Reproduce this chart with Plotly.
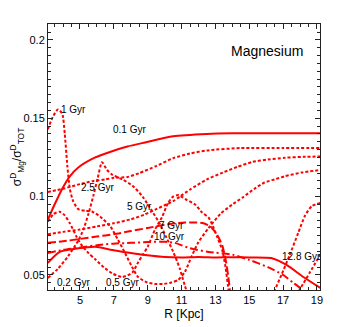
import plotly.graph_objects as go

# radius [kpc] and sigma_Mg / sigma_TOT for each time
r_01 = [3.1, 3.5, 4.0, 4.4, 4.9, 5.9, 6.9, 7.8, 8.85, 10.5, 12.5, 14.0, 16.0, 19.2]
s_01 = [0.0853, 0.095, 0.106, 0.113, 0.1186, 0.125, 0.129, 0.132, 0.1346, 0.1385, 0.1400, 0.1404, 0.1404, 0.1404]

r_02 = [3.1, 3.7, 4.3, 4.9, 5.2, 5.5, 5.8, 6.05, 6.3, 6.6, 6.9, 7.5, 8.1, 8.7, 9.3, 9.7,
        10.1, 10.5, 10.9, 11.2, 11.5, 12.5, 16.5, 17.6, 18.0, 18.6, 19.2]
s_02 = [0.048, 0.054, 0.062, 0.072, 0.079, 0.089, 0.101, 0.112, 0.122, 0.117, 0.114, 0.111, 0.107,
        0.100, 0.090, 0.083, 0.074, 0.065, 0.054, 0.043, 0.034, 0.02, 0.02, 0.034, 0.041, 0.052, 0.063]

r_05 = [3.1, 3.45, 3.8, 4.1, 4.4, 4.8, 5.1, 5.5, 5.9, 6.4, 6.9, 7.5, 8.08, 8.43, 8.72, 9.0, 9.43,
        9.85, 10.2, 10.5, 10.8, 11.3, 11.8, 12.2, 12.6, 12.9, 13.1, 13.4, 13.6, 13.75, 13.9, 14.6,
        15.8, 16.5, 16.9, 17.4, 17.9, 18.3, 18.7, 19.2]
s_05 = [0.084, 0.089, 0.0904, 0.088, 0.083, 0.0744, 0.069, 0.064, 0.060, 0.055, 0.051, 0.0487,
        0.0514, 0.058, 0.063, 0.068, 0.079, 0.087, 0.096, 0.100, 0.101, 0.098, 0.095, 0.090, 0.0866,
        0.080, 0.0745, 0.066, 0.055, 0.0426, 0.033, 0.02, 0.02, 0.040, 0.050, 0.063, 0.077, 0.088,
        0.094, 0.096]

r_1 = [3.1, 3.4, 3.7, 3.95, 4.1, 4.25, 4.4, 4.6, 4.9, 5.3, 5.7, 6.2, 6.8, 7.25, 7.66, 8.08, 8.43,
       8.9, 9.4, 9.9, 10.4, 10.8, 11.2, 11.6, 12.0, 12.6, 13.3, 14.0, 14.6, 15.3, 15.9, 16.5, 17.1,
       18.1, 19.2]
s_1 = [0.143, 0.151, 0.1557, 0.153, 0.140, 0.120, 0.105, 0.097, 0.092, 0.091, 0.0905, 0.0872,
       0.0808, 0.0724, 0.064, 0.055, 0.0487, 0.0455, 0.0443, 0.0442, 0.0452, 0.0468, 0.052, 0.062,
       0.071, 0.080, 0.089, 0.095, 0.0994, 0.105, 0.109, 0.111, 0.113, 0.1154, 0.117]

r_25 = [3.1, 4.0, 5.0, 5.8, 6.5, 7.0, 7.8, 8.5, 9.5, 10.5, 11.5, 12.5, 14.5, 17.0, 19.2]
s_25 = [0.103, 0.105, 0.108, 0.110, 0.111, 0.112, 0.1125, 0.115, 0.1195, 0.1245, 0.1275, 0.1295,
        0.131, 0.131, 0.131]

r_5 = [3.1, 4.0, 5.0, 6.0, 7.0, 8.0, 8.8, 9.5, 10.0, 10.5, 10.9, 11.5, 12.5, 13.45, 14.3, 15.2,
       16.1, 17.1, 18.2, 19.2]
s_5 = [0.076, 0.0775, 0.079, 0.081, 0.083, 0.0855, 0.0885, 0.092, 0.0945, 0.097, 0.100, 0.1045,
       0.111, 0.1154, 0.119, 0.1222, 0.1237, 0.1248, 0.1254, 0.1256]

r_7 = [3.1, 4.0, 5.0, 6.0, 7.0, 8.0, 9.0, 10.0, 10.6, 11.2, 11.8, 12.3, 12.7, 13.1, 13.4, 13.6,
       13.75, 13.85, 14.0]
s_7 = [0.0705, 0.0715, 0.073, 0.0745, 0.076, 0.078, 0.080, 0.082, 0.083, 0.0835, 0.0835, 0.083,
       0.081, 0.0756, 0.069, 0.060, 0.050, 0.041, 0.030]

r_10 = [3.1, 4.0, 5.0, 6.0, 7.0, 8.0, 9.0, 10.0, 10.6, 11.5, 12.6, 14.0, 15.0, 16.1, 17.0, 17.6,
        18.0, 18.4]
s_10 = [0.064, 0.066, 0.0675, 0.069, 0.070, 0.0705, 0.071, 0.0712, 0.0705, 0.067, 0.0647, 0.063,
        0.0596, 0.055, 0.050, 0.045, 0.0417, 0.036]

r_128 = [3.1, 3.8, 4.9, 5.9, 6.9, 8.0, 8.85, 10.0, 11.0, 12.0, 13.0, 14.0, 15.0, 16.3, 17.2, 18.2, 19.2]
s_128 = [0.0577, 0.0647, 0.067, 0.068, 0.066, 0.064, 0.0628, 0.0615, 0.0612, 0.0615, 0.0612,
         0.0613, 0.0612, 0.0608, 0.0564, 0.0487, 0.0417]

# curve labels
lab_text = ["0.1 Gyr", "1 Gyr", "2.5 Gyr", "5 Gyr", "7 Gyr", "10 Gyr", "12.8 Gyr", "0.2 Gyr", "0.5 Gyr"]
lab_x = [7.95, 4.6, 6.04, 8.5, 10.4, 10.3, 18.1, 4.6, 7.5]
lab_y = [0.143, 0.1555, 0.1058, 0.0936, 0.0814, 0.0744, 0.0615, 0.0455, 0.0449]

red = "#ff0000"
dotted = "3px,2px"
series = [
    ("0.1 Gyr", r_01, s_01, "solid"),
    ("0.2 Gyr", r_02, s_02, dotted),
    ("0.5 Gyr", r_05, s_05, dotted),
    ("1 Gyr", r_1, s_1, dotted),
    ("2.5 Gyr", r_25, s_25, dotted),
    ("5 Gyr", r_5, s_5, dotted),
    ("7 Gyr", r_7, s_7, "8px,3px"),
    ("10 Gyr", r_10, s_10, "8px,3px,2px,3px"),
    ("12.8 Gyr", r_128, s_128, "solid"),
]

fig = go.Figure()
for name, xs, ys, dash in series:
    fig.add_trace(go.Scatter(x=xs, y=ys, mode="lines", name=name,
                             line=dict(color=red, width=2, dash=dash, shape="spline", smoothing=0.6)))

for t, x, y in zip(lab_text, lab_x, lab_y):
    fig.add_annotation(x=x, y=y, text=t, showarrow=False, font=dict(size=10, color="black"))

fig.add_annotation(x=16.07, y=0.193, text="Magnesium", showarrow=False,
                   font=dict(size=14, color="black"))

axis_common = dict(showgrid=False, zeroline=False, showline=True, linecolor="#222", linewidth=1,
                   mirror="allticks", ticks="inside", ticklen=5, tickcolor="#222",
                   tickfont=dict(size=11, color="black"), automargin=False)

fig.update_xaxes(range=[3.11, 19.18], tick0=1, dtick=2,
                 minor=dict(dtick=0.5, ticks="inside", ticklen=3, tickcolor="#222"),
                 title=dict(text="R [Kpc]", font=dict(size=12, color="black"), standoff=4),
                 **axis_common)
fig.update_yaxes(range=[0.0404, 0.2102], dtick=0.05,
                 minor=dict(dtick=0.005, ticks="inside", ticklen=3, tickcolor="#222"),
                 title=dict(text="σ<sup>D</sup><sub>Mg</sub>/σ<sup>D</sup><sub>TOT</sub>",
                            font=dict(size=12, color="black"), standoff=4),
                 **axis_common)

# the page body adds an 8px offset, so the figure is drawn 8px smaller
fig.update_layout(width=346, height=319, margin=dict(l=40, r=34, t=16, b=37),
                  paper_bgcolor="white", plot_bgcolor="white", showlegend=False,
                  font=dict(family="Liberation Sans, Arial, sans-serif"))

fig.write_html("out.html")
